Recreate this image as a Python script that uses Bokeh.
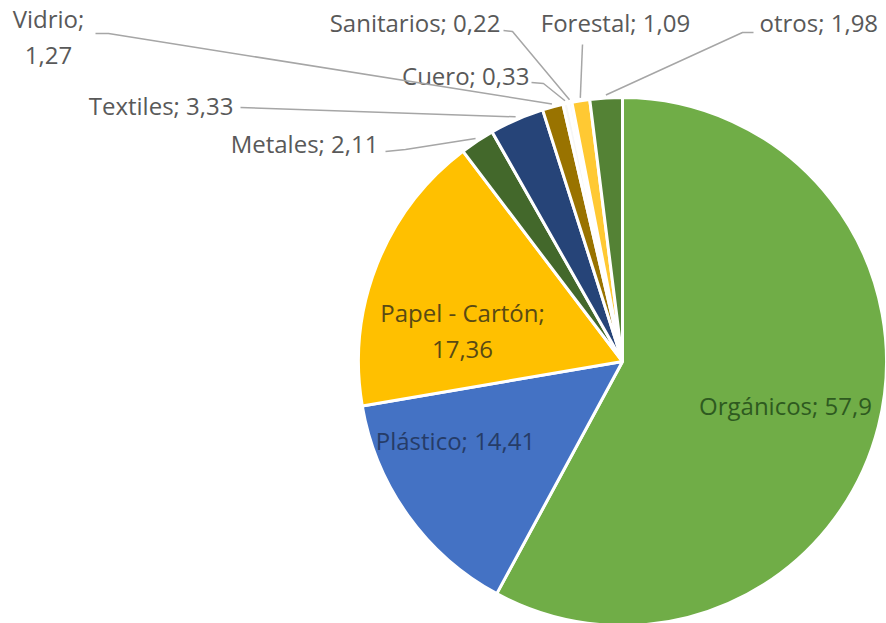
import math
from bokeh.plotting import figure
from bokeh.models import Range1d, ColumnDataSource
from bokeh.core.properties import value
from bokeh.embed import file_html
from bokeh.resources import INLINE

# ---- data ----
categories = ["Orgánicos", "Plástico", "Papel - Cartón", "Metales", "Textiles",
              "Vidrio", "Cuero", "Sanitarios", "Forestal", "otros"]
values = [57.9, 14.41, 17.36, 2.11, 3.33, 1.27, 0.33, 0.22, 1.09, 1.98]
colors = ["#70AD47", "#4472C4", "#FFC000", "#43682B", "#264478",
          "#997300", "#F7F7F7", "#F7F7F7", "#FFC933", "#548235"]

# ---- layout (image pixel coords, y down) ----
W, H = 886, 623
CX, CY, R = 622, 361, 264
FONT = "Open Sans"

def fy(y):
    return -y

total = sum(values)
starts, ends, mids = [], [], []
c = 0.0
for v in values:
    a0 = math.pi / 2 - 2 * math.pi * c / total
    c += v
    a1 = math.pi / 2 - 2 * math.pi * c / total
    starts.append(a0)
    ends.append(a1)
    mids.append((a0 + a1) / 2)

src = ColumnDataSource(dict(start=starts, end=ends, color=colors))

p = figure(width=W, height=H, output_backend="svg", toolbar_location=None,
           x_range=Range1d(0, W), y_range=Range1d(-H, 0),
           min_border=0, outline_line_color=None)
p.axis.visible = False
p.grid.visible = False
p.background_fill_color = "white"
p.border_fill_color = "white"

p.wedge(x=CX, y=fy(CY), radius=R, start_angle="start", end_angle="end",
        direction="clock", fill_color="color", line_color="white",
        line_width=3, source=src)

def fmt(v):
    return str(v).replace(".", ",")

labels = {cat: f"{cat}; {fmt(v)}" for cat, v in zip(categories, values)}
labels["Papel - Cartón"] = f"Papel - Cartón;\n{fmt(values[2])}"
labels["Vidrio"] = f"Vidrio;\n{fmt(values[5])}"

# label placement: (x, y, align, color)
place = {
    "Orgánicos": (785, 405, "center", "#2E5A20"),
    "Plástico": (455, 440, "center", "#263C68"),
    "Papel - Cartón": (462, 330, "center", "#594A14"),
    "Metales": (378, 143, "right", "#595959"),
    "Textiles": (233, 105, "right", "#595959"),
    "Vidrio": (48, 36, "center", "#595959"),
    "Cuero": (529, 75, "right", "#595959"),
    "Sanitarios": (500, 22, "right", "#595959"),
    "Forestal": (615, 22, "center", "#595959"),
    "otros": (759, 22, "left", "#595959"),
}

for cat in categories:
    x, y, al, col = place[cat]
    p.text(x=[x], y=[fy(y)], text=[labels[cat]], text_font=value(FONT),
           text_font_size="24px", text_align=al, text_baseline="middle",
           text_color=col, text_line_height=1.08)

# leader lines: start points / elbows (layout), end at slice mid on the rim
leader = {
    "Vidrio": [(95, 33), (108, 33)],
    "Textiles": [(240, 107)],
    "Metales": [(385, 151), (405, 149)],
    "Cuero": [(531, 82), (543, 83)],
    "Sanitarios": [(503, 30), (512, 31)],
    "Forestal": [(582, 44)],
    "otros": [(753, 32), (742, 32)],
}
for i, cat in enumerate(categories):
    if cat not in leader:
        continue
    a = mids[i]
    ex = CX + (R + 3) * math.cos(a)
    ey = CY - (R + 3) * math.sin(a)
    pts = leader[cat] + [(ex, ey)]
    p.line([q[0] for q in pts], [fy(q[1]) for q in pts],
           line_color="#A6A6A6", line_width=1.5)

open("out.html", "w").write(file_html(p, INLINE))
